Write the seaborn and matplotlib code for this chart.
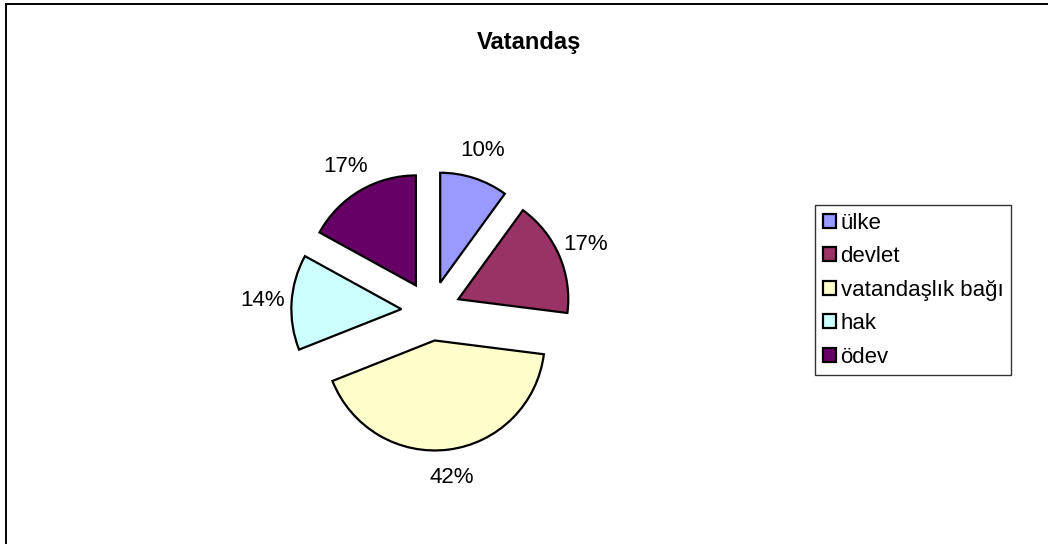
import matplotlib
matplotlib.use("Agg")
import matplotlib.pyplot as plt
from matplotlib.lines import Line2D
import seaborn as sns

sns.set_theme(style="white")
plt.rcParams["font.family"] = ["Liberation Sans", "DejaVu Sans"]
plt.rcParams["text.color"] = "black"

# veriler
kategoriler = ["ülke", "devlet", "vatandaşlık bağı", "hak", "ödev"]
yuzdeler = [10, 17, 42, 14, 17]
renkler = ["#9999FF", "#993366", "#FFFFCC", "#CCFFFF", "#660066"]
baslik = "Vatandaş"

W, H = 1048, 544
R_PX = 110.0           # pasta yarıçapı (piksel)
CX, CY = 431, 311      # pasta merkezi (piksel, üstten)
PATLAMA = 0.27

fig = plt.figure(figsize=(W / 100, H / 100), dpi=100)
fig.patch.set_facecolor("white")
ax = fig.add_axes([0, 0, 1, 1])

wedges, _, autotexts = ax.pie(
    yuzdeler,
    colors=renkler,
    explode=[PATLAMA] * len(yuzdeler),
    startangle=90,
    counterclock=False,
    autopct="%1.0f%%",
    pctdistance=1.26,
    wedgeprops=dict(edgecolor="black", linewidth=1.6),
    textprops=dict(fontsize=16, color="black"),
)

# eksen sınırları: 1 birim = R_PX piksel
ax.set_xlim(-CX / R_PX, (W - CX) / R_PX)
ax.set_ylim(-(H - CY) / R_PX, CY / R_PX)
ax.set_aspect("equal", adjustable="datalim")
ax.axis("off")

fig.text(529 / W, 1 - 42 / H, baslik, ha="center", va="center",
         fontsize=17, fontweight="bold", color="black")

leg = fig.legend(
    wedges, kategoriler,
    loc="upper left",
    bbox_to_anchor=(815 / W, 1 - 205 / H),
    bbox_transform=fig.transFigure,
    borderaxespad=0,
    fontsize=16,
    frameon=True,
    fancybox=False,
    shadow=False,
    handlelength=0.6,
    handleheight=0.6,
    handletextpad=0.2,
    labelspacing=0.56,
    borderpad=0.35,
)
leg.get_frame().set_edgecolor("black")
leg.get_frame().set_linewidth(1.0)
for t in leg.get_texts():
    t.set_color("black")

# dış çerçeve (sol ve üst)
fig.add_artist(Line2D([6 / W, 6 / W], [0, 1 - 4 / H], transform=fig.transFigure,
                      color="black", linewidth=1.4))
fig.add_artist(Line2D([6 / W, 1], [1 - 4 / H, 1 - 4 / H], transform=fig.transFigure,
                      color="black", linewidth=1.4))

fig.savefig("out.png", dpi=100, facecolor="white")
